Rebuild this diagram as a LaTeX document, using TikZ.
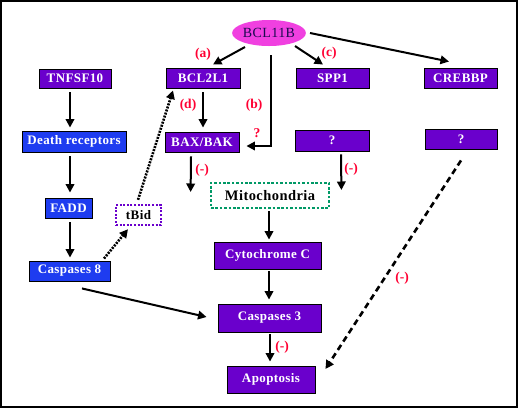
\documentclass[tikz,border=0pt]{standalone}
\usepackage{fontspec}
\setmainfont{Liberation Serif}
\newfontfamily\lbl[LetterSpace=3]{Liberation Serif}
\usetikzlibrary{arrows.meta,calc,shapes.geometric}
\definecolor{pbox}{HTML}{6A00CC}
\definecolor{bbox}{HTML}{1E3CF0}
\definecolor{mag}{HTML}{F040E0}
\definecolor{grn}{HTML}{009966}
\definecolor{rlab}{HTML}{FF0033}
\definecolor{navy}{HTML}{1A0A50}
\begin{document}
\begin{tikzpicture}[x=1pt,y=-1pt,
  box/.style={draw=black,line width=0.9pt,inner sep=0pt,font=\lbl\fontsize{13}{15}\selectfont\bfseries,text=white},
  pbx/.style={box,fill=pbox},
  bbx/.style={box,fill=bbox},
  arr/.style={line width=2pt,-{Triangle[length=8.5pt,width=8.5pt]}},
  dotarr/.style={line width=2.6pt,dash pattern=on 2pt off 1.2pt,-{Triangle[length=8.5pt,width=8.5pt]}},
  dasharr/.style={line width=2.6pt,dash pattern=on 6pt off 4pt,-{Triangle[length=8.5pt,width=8.5pt]}},
  lab/.style={text=rlab,font=\fontsize{13.5}{15}\selectfont\bfseries,inner sep=0pt}]
\useasboundingbox (0,0) rectangle (518,408);
\fill[white] (0,0) rectangle (518,408);
\draw[line width=2.2pt] (1.1,1.1) rectangle (516.9,406.9);

\node[ellipse,fill=mag,draw=none,minimum width=58pt,minimum height=26pt,inner sep=0pt,text=navy,
  font=\lbl\fontsize{14}{16}\selectfont] (bcl11b) at (269,33) {BCL11B};
\node[pbx,minimum width=74pt,minimum height=20pt] (bcl2l1) at (203,78) {BCL2L1};
\node[pbx,minimum width=72pt,minimum height=19pt] (tnfsf10) at (75,78.5) {TNFSF10};
\node[bbx,minimum width=104pt,minimum height=21pt] (death) at (74,141.5) {Death receptors};
\node[pbx,minimum width=74pt,minimum height=20pt] (baxbak) at (202,142) {BAX/BAK};
\node[bbx,minimum width=47pt,minimum height=20pt] (fadd) at (68.5,208) {FADD};
\node[box,fill=white,text=black,draw=pbox,line width=2.4pt,dash pattern=on 2pt off 1.6pt,
  minimum width=45pt,minimum height=20pt] (tbid) at (138.5,215) {tBid};
\node[bbx,minimum width=81pt,minimum height=20pt] (casp8) at (69.5,271) {Caspases 8};
\node[box,fill=white,text=black,draw=grn,line width=2.8pt,dash pattern=on 2.6pt off 1.8pt,
  font=\lbl\fontsize{14.5}{16}\selectfont\bfseries,
  minimum width=118pt,minimum height=25pt] (mito) at (270,195.5) {Mitochondria};
\node[pbx,minimum width=107pt,minimum height=27pt] (cytc) at (267.5,255.5) {Cytochrome C};
\node[pbx,minimum width=103pt,minimum height=28pt] (casp3) at (269.5,318) {Caspases 3};
\node[pbx,minimum width=88pt,minimum height=27pt] (apop) at (271,379.5) {Apoptosis};
\node[pbx,minimum width=73pt,minimum height=20pt] (spp1) at (332.5,78) {SPP1};
\node[pbx,minimum width=74pt,minimum height=21pt] (q1) at (332,140.5) {?};
\node[pbx,minimum width=73pt,minimum height=20pt] (crebbp) at (460.5,78) {CREBBP};
\node[pbx,minimum width=72pt,minimum height=20pt] (q2) at (461,139) {?};

% connectors
\draw[arr] ($(bcl11b.center)+(-24,14)$) -- ($(bcl2l1.north)+(10,-3)$);
\draw[arr] ($(bcl11b.center)+(26,13)$) -- ($(spp1.north)+(-9.5,-3)$);
\draw[arr] ($(bcl11b.center)+(41,0)$) -- ($(crebbp.north)+(-11.5,-6)$);
\draw[arr] ($(bcl11b.south)+(2,9)$) |- ($(baxbak.east)+(7,4)$);
\draw[arr] ($(bcl2l1.south)+(0,4)$) -- ($(baxbak.north)+(1,-4)$);
\draw[arr] ($(tnfsf10.south)+(-5,4)$) -- ($(death.north)+(-4,-3)$);
\draw[arr] ($(death.south)+(-4,4)$) -- ($(fadd.north)+(1.5,-5)$);
\draw[arr] ($(fadd.south)+(1.5,4)$) -- ($(casp8.north)+(0.5,-3)$);
\draw[dotarr] ($(casp8.north)+(34.5,-2)$) -- ($(tbid.south)+(-10.5,3)$);
\draw[dotarr] ($(tbid.north)+(-0.5,-4)$) -- ($(bcl2l1.south)+(-30,2)$);
\draw[arr] ($(casp8.south)+(12.5,7)$) -- ($(casp3.west)+(-11,-1)$);
\draw[arr] ($(baxbak.south)+(-11,4)$) -- ($(mito.west)+(-19,-3.5)$);
\draw[arr] ($(q1.south)+(9,3)$) -- ($(mito.east)+(11,-5.5)$);
\draw[arr] ($(mito.south)+(-1,2)$) -- ($(cytc.north)+(1.5,-2)$);
\draw[arr] ($(cytc.south)+(1.5,2)$) -- ($(casp3.north)+(-0.5,-4)$);
\draw[arr] ($(casp3.south)+(0.5,2)$) -- ($(apop.north)+(-1,-4)$);
\draw[dasharr] ($(q2.south)+(0,11)$) -- ($(apop.east)+(10,-10.5)$);

% labels
\node[lab] (la) at (203,54) {(a)};
\node[lab] (lc) at (329,53) {(c)};
\node[lab] (ld) at (188,105) {(d)};
\node[lab] (lb) at (254,105) {(b)};
\node[lab] (lq) at (257,133) {?};
\node[lab] (lm1) at (202,170) {(-)};
\node[lab] (lm2) at (351,169) {(-)};
\node[lab] (lm3) at (282,347) {(-)};
\node[lab] (lm4) at (402,278) {(-)};
\end{tikzpicture}
\end{document}
